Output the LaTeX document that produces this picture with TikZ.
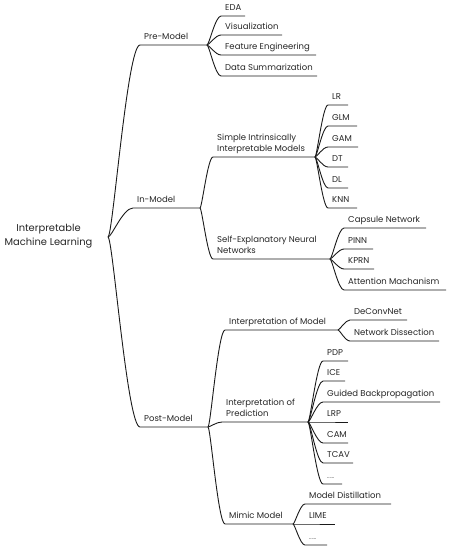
\documentclass[tikz,border=0pt]{standalone}
\usepackage{fontspec}
\setmainfont{Poppins}
\usetikzlibrary{calc}
\definecolor{ln}{HTML}{1A1A1A}
\definecolor{tx}{HTML}{262626}
\tikzset{
  lbl/.style={anchor=south west, inner sep=0pt, text depth=0pt, align=left,
    text=tx, font=\fontsize{8.5}{11.5}\selectfont},
  rootlbl/.style={inner sep=0pt, align=center, text=tx,
    font=\fontsize{9.9}{14}\selectfont},
  br/.style={draw=ln, line width=0.9pt}
}
% #1 name, #2 parent junction, #3 x start, #4 x end, #5 y, #6 text
\newcommand\mmbranch[6]{%
  \coordinate (#1-s) at (#3,#5);
  \coordinate (#1) at (#4,#5);
  \node[lbl] (#1-t) at ($(#1-s)+(4,-5)$) {#6};
  \draw[br] let \p1=(#2), \p2=(#1-s) in
    (#2) .. controls ({\x1+0.15*(\x2-\x1)},\y1) and ({\x2-0.4*(\x2-\x1)},\y2) .. (#1-s) -- (#1);
}
\begin{document}
\begin{tikzpicture}[x=1pt,y=-1pt]
\useasboundingbox (0,0) rectangle (450,550);
\node[rootlbl] (root) at (48.5,236) {Interpretable\\Machine Learning};
\coordinate (R) at (108,237);
% Pre-Model
\mmbranch{pre}{R}{140}{207}{45}{Pre-Model}
\mmbranch{eda}{pre}{221}{245}{16}{EDA}
\mmbranch{vis}{pre}{221}{282}{35}{Visualization}
\mmbranch{fe}{pre}{221}{316}{55}{Feature Engineering}
\mmbranch{ds}{pre}{221}{317}{76}{Data Summarization}
% In-Model
\mmbranch{in}{R}{133}{200}{208}{In-Model}
\mmbranch{siim}{in}{213}{315}{157}{Simple Intrinsically\\Interpretable Models}
\mmbranch{lr}{siim}{328}{348}{105}{LR}
\mmbranch{glm}{siim}{328}{357}{126}{GLM}
\mmbranch{gam}{siim}{328}{358}{147}{GAM}
\mmbranch{dt}{siim}{328}{348}{167}{DT}
\mmbranch{dl}{siim}{328}{348}{188}{DL}
\mmbranch{knn}{siim}{328}{357}{208}{KNN}
\mmbranch{senn}{in}{213}{330}{259}{Self-Explanatory Neural\\Networks}
\mmbranch{cap}{senn}{344}{426}{228}{Capsule Network}
\mmbranch{pinn}{senn}{344}{373}{249}{PINN}
\mmbranch{kprn}{senn}{344}{374}{269}{KPRN}
\mmbranch{att}{senn}{344}{446}{290}{Attention Machanism}
% Post-Model
\mmbranch{post}{R}{140}{208}{427}{Post-Model}
\mmbranch{iom}{post}{225}{338}{330}{Interpretation of Model}
\mmbranch{deconv}{iom}{350}{407}{320}{DeConvNet}
\mmbranch{netdis}{iom}{350}{439}{341}{Network Dissection}
\mmbranch{iop}{post}{222}{308}{422}{Interpretation of\\Prediction}
\mmbranch{pdp}{iop}{323}{348}{361}{PDP}
\mmbranch{ice}{iop}{323}{345}{381}{ICE}
\mmbranch{gbp}{iop}{323}{440}{402}{Guided Backpropagation}
\mmbranch{lrp}{iop}{323}{348}{422}{LRP}
\mmbranch{cam}{iop}{323}{348}{443}{CAM}
\mmbranch{tcav}{iop}{323}{353}{463}{TCAV}
\mmbranch{dotsa}{iop}{323}{342}{484}{{\fontsize{5.5}{6}\selectfont......}}
\mmbranch{mm}{post}{225}{293}{524}{Mimic Model}
\mmbranch{md}{mm}{305}{391}{504}{Model Distillation}
\mmbranch{lime}{mm}{305}{335}{524}{LIME}
\mmbranch{dotsb}{mm}{305}{327}{545}{{\fontsize{5.5}{6}\selectfont......}}
\end{tikzpicture}
\end{document}
